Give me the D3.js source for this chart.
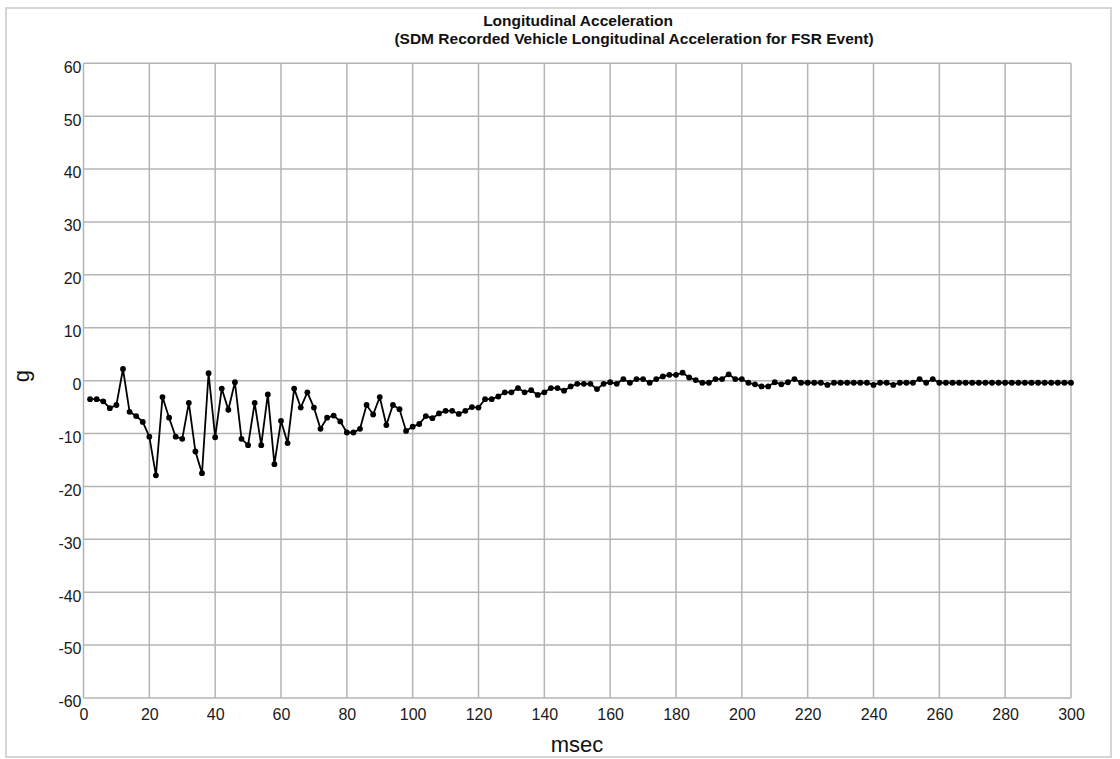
<!DOCTYPE html>
<html>
<head>
<meta charset="utf-8">
<script src="https://cdn.jsdelivr.net/npm/d3@7"></script>
<style>
  html, body { margin: 0; padding: 0; background: #fff; }
  svg { display: block; font-family: "Liberation Sans", Arial, sans-serif; }
</style>
</head>
<body>
<svg id="chart" width="1120" height="759"></svg>
<script>
// Sample times (msec) of the SDM longitudinal acceleration record
const timeMs = [
  2, 4, 6, 8, 10, 12, 14, 16, 18, 20, 22, 24, 26, 28, 30, 32, 34, 36, 38, 40,
  42, 44, 46, 48, 50, 52, 54, 56, 58, 60, 62, 64, 66, 68, 70, 72, 74, 76, 78, 80,
  82, 84, 86, 88, 90, 92, 94, 96, 98, 100, 102, 104, 106, 108, 110, 112, 114, 116, 118, 120,
  122, 124, 126, 128, 130, 132, 134, 136, 138, 140, 142, 144, 146, 148, 150, 152, 154, 156, 158, 160,
  162, 164, 166, 168, 170, 172, 174, 176, 178, 180, 182, 184, 186, 188, 190, 192, 194, 196, 198, 200,
  202, 204, 206, 208, 210, 212, 214, 216, 218, 220, 222, 224, 226, 228, 230, 232, 234, 236, 238, 240,
  242, 244, 246, 248, 250, 252, 254, 256, 258, 260, 262, 264, 266, 268, 270, 272, 274, 276, 278, 280,
  282, 284, 286, 288, 290, 292, 294, 296, 298, 300
];

// Longitudinal acceleration (g)
const accelG = [
  -3.5, -3.5, -3.9, -5.2, -4.6, 2.2, -5.9, -6.7, -7.8, -10.6,
  -17.9, -3.1, -7.0, -10.6, -11.0, -4.2, -13.4, -17.5, 1.4, -10.7,
  -1.5, -5.5, -0.3, -11.0, -12.2, -4.2, -12.2, -2.6, -15.8, -7.6,
  -11.8, -1.5, -5.1, -2.2, -5.1, -9.1, -7.0, -6.6, -7.7, -9.8,
  -9.8, -9.1, -4.6, -6.4, -3.1, -8.4, -4.6, -5.4, -9.5, -8.7,
  -8.2, -6.7, -7.1, -6.2, -5.7, -5.7, -6.3, -5.7, -5.0, -5.1,
  -3.5, -3.5, -3.0, -2.2, -2.2, -1.4, -2.2, -1.8, -2.7, -2.2,
  -1.4, -1.4, -1.9, -1.1, -0.6, -0.6, -0.6, -1.6, -0.6, -0.3,
  -0.6, 0.3, -0.4, 0.3, 0.3, -0.4, 0.3, 0.8, 1.1, 1.1,
  1.5, 0.6, 0.1, -0.4, -0.4, 0.3, 0.3, 1.2, 0.3, 0.3,
  -0.4, -0.7, -1.1, -1.1, -0.3, -0.7, -0.3, 0.3, -0.4, -0.4,
  -0.4, -0.4, -0.8, -0.4, -0.4, -0.4, -0.4, -0.4, -0.4, -0.8,
  -0.4, -0.4, -0.8, -0.4, -0.4, -0.4, 0.3, -0.4, 0.3, -0.4,
  -0.4, -0.4, -0.4, -0.4, -0.4, -0.4, -0.4, -0.4, -0.4, -0.4,
  -0.4, -0.4, -0.4, -0.4, -0.4, -0.4, -0.4, -0.4, -0.4, -0.4
];

const xTicks = [0, 20, 40, 60, 80, 100, 120, 140, 160, 180, 200, 220, 240, 260, 280, 300];
const yTicks = [-60, -50, -40, -30, -20, -10, 0, 10, 20, 30, 40, 50, 60];

const titleLines = [
  "Longitudinal Acceleration",
  "(SDM Recorded Vehicle Longitudinal Acceleration for FSR Event)"
];
const xLabel = "msec";
const yLabel = "g";

const svg = d3.select("#chart");
const plot = { left: 83.5, right: 1071, top: 63.3, bottom: 698 };

const x = d3.scaleLinear().domain([0, 300]).range([plot.left, plot.right]);
const y = d3.scaleLinear().domain([-60, 60]).range([plot.bottom, plot.top]);

const gridColor = "#b4b4b4";
const plainNumber = d => String(d);   // ASCII hyphen for negatives

// outer frame
svg.append("rect")
  .attr("x", 6).attr("y", 8)
  .attr("width", 1105).attr("height", 749)
  .attr("fill", "none")
  .attr("stroke", "#d6d6d6")
  .attr("stroke-width", 2);

// grid lines
const grid = svg.append("g");
grid.selectAll("line.v").data(xTicks).join("line")
  .attr("x1", d => x(d)).attr("x2", d => x(d))
  .attr("y1", plot.top).attr("y2", plot.bottom)
  .attr("stroke", gridColor).attr("stroke-width", 1.5);
grid.selectAll("line.h").data(yTicks).join("line")
  .attr("x1", plot.left).attr("x2", plot.right)
  .attr("y1", d => y(d)).attr("y2", d => y(d))
  .attr("stroke", gridColor).attr("stroke-width", 1.5);

// axes (labels only; the grid supplies the lines)
const xAxis = d3.axisBottom(x).tickValues(xTicks).tickFormat(plainNumber)
  .tickSize(0).tickPadding(11);
const gx = svg.append("g").attr("transform", `translate(0,${plot.bottom})`).call(xAxis);
gx.select(".domain").remove();
gx.selectAll("text")
  .attr("font-size", 16).attr("fill", "#1a1a1a")
  .attr("font-family", "Liberation Sans, Arial, sans-serif");

const yAxis = d3.axisLeft(y).tickValues(yTicks).tickFormat(plainNumber)
  .tickSize(0).tickPadding(2);
const gy = svg.append("g").attr("transform", `translate(${plot.left},0)`).call(yAxis);
gy.select(".domain").remove();
gy.selectAll("text")
  .attr("font-size", 16).attr("fill", "#1a1a1a")
  .attr("dy", "0.55em")
  .attr("font-family", "Liberation Sans, Arial, sans-serif");

// data line and markers
const pts = timeMs.map((t, i) => ({ t, v: accelG[i] }));
const line = d3.line().x(d => x(d.t)).y(d => y(d.v));
svg.append("path")
  .datum(pts)
  .attr("d", line)
  .attr("fill", "none")
  .attr("stroke", "#000")
  .attr("stroke-width", 1.8);
svg.append("g").selectAll("circle").data(pts).join("circle")
  .attr("cx", d => x(d.t)).attr("cy", d => y(d.v))
  .attr("r", 2.9).attr("fill", "#000");

// titles
svg.append("text")
  .attr("x", 578).attr("y", 26)
  .attr("text-anchor", "middle")
  .attr("font-size", 15.5).attr("font-weight", "bold").attr("fill", "#111")
  .text(titleLines[0]);
svg.append("text")
  .attr("x", 634).attr("y", 44)
  .attr("text-anchor", "middle")
  .attr("font-size", 15.5).attr("font-weight", "bold").attr("fill", "#111")
  .text(titleLines[1]);

// axis titles
svg.append("text")
  .attr("x", 577).attr("y", 752)
  .attr("text-anchor", "middle")
  .attr("font-size", 22).attr("fill", "#111")
  .text(xLabel);
svg.append("text")
  .attr("transform", "translate(29,376) rotate(-90)")
  .attr("text-anchor", "middle")
  .attr("font-size", 22).attr("fill", "#111")
  .text(yLabel);
</script>
</body>
</html>
